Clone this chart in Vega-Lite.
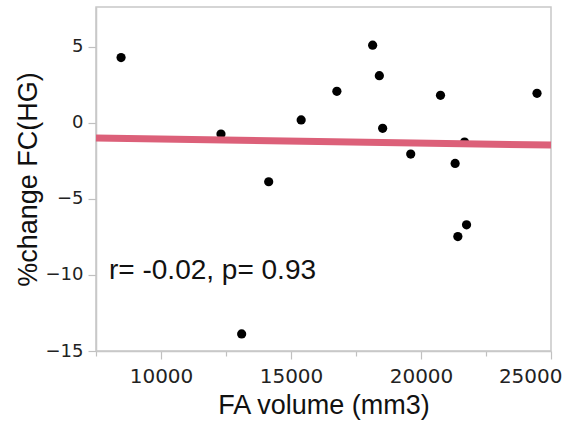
{
  "$schema": "https://vega.github.io/schema/vega-lite/v6.json",
  "width": 455,
  "height": 344,
  "autosize": "none",
  "padding": {"left": 96, "top": 7, "right": 14, "bottom": 73},
  "background": "white",
  "config": {
    "view": {"stroke": "#c8c8c8", "strokeWidth": 1.5},
    "axis": {
      "domainColor": "#c8c8c8",
      "domainWidth": 1.5,
      "tickColor": "#c0c0c0",
      "tickWidth": 1.2,
      "grid": false,
      "labelFont": "DejaVu Sans",
      "labelFontSize": 20,
      "labelColor": "#222222",
      "titleFont": "Liberation Sans",
      "titleFontSize": 27,
      "titleFontWeight": "normal",
      "titleColor": "#111111"
    }
  },
  "datasets": {
    "pts": [
      {"fa": 8464, "pc": 4.28},
      {"fa": 12307, "pc": -0.75},
      {"fa": 13102, "pc": -13.88},
      {"fa": 14142, "pc": -3.88},
      {"fa": 15391, "pc": 0.18},
      {"fa": 16764, "pc": 2.06},
      {"fa": 18140, "pc": 5.09},
      {"fa": 18398, "pc": 3.09},
      {"fa": 18525, "pc": -0.37},
      {"fa": 19605, "pc": -2.06},
      {"fa": 20750, "pc": 1.8},
      {"fa": 21313, "pc": -2.68},
      {"fa": 21417, "pc": -7.48},
      {"fa": 21675, "pc": -1.27},
      {"fa": 21752, "pc": -6.71},
      {"fa": 24462, "pc": 1.93}
    ],
    "fit": [
      {"fa": 7500, "pc": -1.01},
      {"fa": 25000, "pc": -1.47}
    ],
    "note": [
      {"fa": 8000, "pc": -10.26, "label": "r= -0.02, p= 0.93"}
    ]
  },
  "layer": [
    {
      "data": {"name": "pts"},
      "mark": {"type": "circle", "size": 85, "color": "#000000", "opacity": 1},
      "encoding": {
        "x": {
          "field": "fa", "type": "quantitative",
          "scale": {"domain": [7500, 25000], "nice": false, "zero": false},
          "axis": {
            "title": "FA volume (mm3)",
            "values": [7500, 10000, 12500, 15000, 17500, 20000, 22500, 25000],
            "labelExpr": "datum.value % 5000 === 0 ? datum.label : ''",
            "format": "d",
            "tickSize": {"expr": "datum.value % 5000 === 0 ? 8 : 5"},
            "labelPadding": 7,
            "titlePadding": 6,
            "labelFlush": true,
            "labelFlushOffset": 11
          }
        },
        "y": {
          "field": "pc", "type": "quantitative",
          "scale": {"domain": [-15, 7.6], "nice": false, "zero": false},
          "axis": {
            "title": "%change FC(HG)",
            "values": [-15, -12.5, -10, -7.5, -5, -2.5, 0, 2.5, 5, 7.5],
            "labelExpr": "datum.value % 5 === 0 ? replace(datum.label, '-', '\u2212') : ''",
            "tickSize": {"expr": "datum.value % 5 === 0 ? 8 : 5"},
            "labelFontSize": 18,
            "labelPadding": 5,
            "titlePadding": 3,
            "labelFlush": false
          }
        }
      }
    },
    {
      "data": {"name": "fit"},
      "mark": {"type": "line", "color": "#dc6079", "strokeWidth": 7, "strokeCap": "butt"},
      "encoding": {
        "x": {"field": "fa", "type": "quantitative"},
        "y": {"field": "pc", "type": "quantitative"}
      }
    },
    {
      "data": {"name": "note"},
      "mark": {"type": "text", "align": "left", "baseline": "alphabetic", "font": "Liberation Sans", "fontSize": 28, "color": "#111111"},
      "encoding": {
        "x": {"field": "fa", "type": "quantitative"},
        "y": {"field": "pc", "type": "quantitative"},
        "text": {"field": "label"}
      }
    }
  ]
}
